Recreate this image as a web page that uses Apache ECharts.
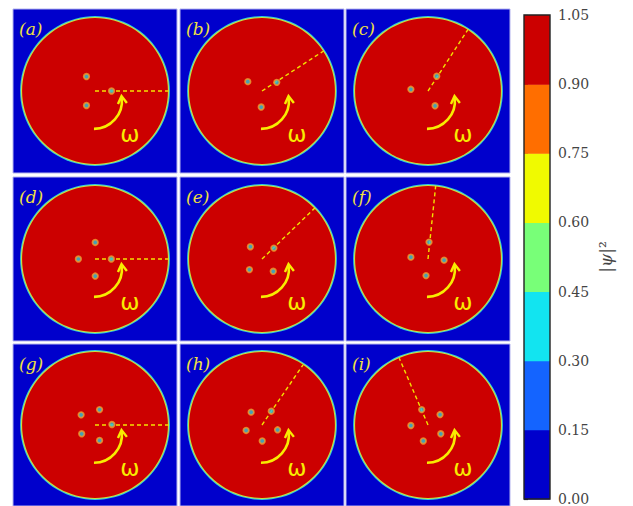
<!DOCTYPE html>
<html><head><meta charset="utf-8">
<script src="https://cdn.jsdelivr.net/npm/echarts@6/dist/echarts.min.js"></script>
<style>html,body{margin:0;padding:0;background:#fff}#c{width:633px;height:506px}</style>
</head><body><div id="c"></div>
<script>
// ---- data (positions in units of the condensate radius) ----
const panelLabels = ['(a)','(b)','(c)','(d)','(e)','(f)','(g)','(h)','(i)'];
const lineAngles = [0, 33, 57, 0, 44, 84, 0, 56, 113]; // degrees of the dashed reference line
const vorticesA = [[0.225,0],[-0.116,0.197],[-0.116,-0.197]];
const vorticesB = [[0.201,0.118],[-0.193,0.127],[-0.011,-0.218]];
const vorticesC = [[0.119,0.201],[-0.233,0.023],[0.096,-0.201]];
const vorticesD = [[0.222,0],[0.003,0.225],[-0.226,0],[0.003,-0.232]];
const vorticesE = [[0.162,0.148],[-0.158,0.167],[-0.171,-0.144],[0.153,-0.167]];
const vorticesF = [[0.014,0.23],[-0.233,0.025],[-0.027,-0.226],[0.219,-0.016]];
const vorticesG = [[0.23,0.007],[0.062,0.212],[-0.189,0.14],[-0.181,-0.121],[0.062,-0.212]];
const vorticesH = [[0.126,0.19],[-0.148,0.177],[-0.216,-0.075],[0.003,-0.22],[0.212,-0.066]];
const vorticesI = [[-0.086,0.212],[0.164,0.144],[-0.233,-0.007],[0.174,-0.121],[-0.064,-0.22]];
const vortexSets = [vorticesA,vorticesB,vorticesC,vorticesD,vorticesE,vorticesF,vorticesG,vorticesH,vorticesI];
const cbTicks = [0, 0.15, 0.30, 0.45, 0.60, 0.75, 0.90, 1.05];
const cbColors = ['#0000cc','#1464ff','#12e4f0','#78ff78','#f0fa00','#ff6e00','#cc0000'];

// ---- layout ----
const colLefts = [13, 180, 346];
const rowTops = [9, 177, 344];
const panelSize = 164;
const half = 1.1156;

const grids = [], xAxes = [], yAxes = [], series = [];

function makeRender(i) {
  return function (params, api) {
    const c = api.coord([0, 0]);
    const r = api.size([1, 0])[0];
    const ang = api.value(2) * Math.PI / 180;
    const end = api.coord([Math.cos(ang), Math.sin(ang)]);
    const ac = api.coord([-0.014, -0.135]);
    const ar = 0.38 * r;
    const endA = -0.12;
    const tip = [ac[0] + ar * Math.cos(endA), ac[1] + ar * Math.sin(endA)];
    const d = [Math.sin(endA), -Math.cos(endA)];
    const n = [-d[1], d[0]];
    const om = api.coord([0.476, -0.59]);
    const corner = api.coord([-half, half]);
    return {
      type: 'group',
      children: [
        {type: 'circle', shape: {cx: c[0], cy: c[1], r: r + 1.4}, style: {fill: '#30c8e0'}},
        {type: 'circle', shape: {cx: c[0], cy: c[1], r: r + 0.5}, style: {fill: '#c8e040'}},
        {type: 'circle', shape: {cx: c[0], cy: c[1], r: r - 0.6}, style: {fill: '#cc0000'}},
        {type: 'line', shape: {x1: c[0], y1: c[1], x2: end[0], y2: end[1]},
          style: {stroke: '#f2e200', lineWidth: 1.4, lineDash: [4, 3]}},
        {type: 'arc', shape: {cx: ac[0], cy: ac[1], r: ar, startAngle: Math.PI / 2, endAngle: endA, clockwise: false},
          style: {stroke: '#f8ec00', lineWidth: 2.6, fill: null}},
        {type: 'polyline', shape: {points: [
            [tip[0] - d[0] * 6 + n[0] * 4.5, tip[1] - d[1] * 6 + n[1] * 4.5],
            [tip[0] + d[0] * 1.5, tip[1] + d[1] * 1.5],
            [tip[0] - d[0] * 6 - n[0] * 4.5, tip[1] - d[1] * 6 - n[1] * 4.5]]},
          style: {stroke: '#f8ec00', lineWidth: 2.4, fill: null}},
        {type: 'text', x: om[0], y: om[1], style: {text: 'ω', fill: '#f8ec00',
          font: '23px "DejaVu Sans"', align: 'center', verticalAlign: 'middle'}},
        {type: 'text', x: corner[0] + 6, y: corner[1] + 11, style: {text: panelLabels[i], fill: '#f0e040',
          font: 'italic 17px "DejaVu Serif"', align: 'left', verticalAlign: 'top'}}
      ]
    };
  };
}

for (let i = 0; i < 9; i++) {
  const row = Math.floor(i / 3), col = i % 3;
  grids.push({left: colLefts[col], top: rowTops[row], width: panelSize, height: panelSize,
    show: true, backgroundColor: '#0000cc', borderColor: '#b4b4ee', borderWidth: 1});
  xAxes.push({type: 'value', gridIndex: i, min: -half, max: half, show: false});
  yAxes.push({type: 'value', gridIndex: i, min: -half, max: half, show: false});
  series.push({type: 'custom', xAxisIndex: i, yAxisIndex: i, silent: true, animation: false,
    data: [[0, 0, lineAngles[i]]], renderItem: makeRender(i), z: 2});
  series.push({type: 'scatter', xAxisIndex: i, yAxisIndex: i, silent: true, animation: false,
    data: vortexSets[i], symbol: 'circle', symbolSize: 5.5, z: 5,
    itemStyle: {color: '#22c8e6', borderColor: '#f29a2c', borderWidth: 1.8}});
}

// colour bar
grids.push({left: 524, top: 15, width: 26, height: 486, show: false});
xAxes.push({type: 'value', gridIndex: 9, min: 0, max: 1, show: false});
yAxes.push({type: 'value', gridIndex: 9, position: 'right', min: cbTicks[0], max: cbTicks[cbTicks.length - 1],
  interval: 0.15, splitLine: {show: false},
  axisLine: {show: false},
  axisTick: {show: true, length: 4, lineStyle: {color: '#222', width: 1.2}},
  axisLabel: {formatter: v => v.toFixed(2), margin: 8, color: '#444', fontFamily: 'DejaVu Serif', fontSize: 14},
  name: '{n||}{p|ψ}{n||²}', nameLocation: 'middle', nameRotate: 90, nameGap: 47,
  nameTextStyle: {color: '#444', rich: {
    n: {fontFamily: 'DejaVu Serif', fontSize: 17, color: '#444'},
    p: {fontFamily: 'DejaVu Serif', fontStyle: 'italic', fontSize: 17, color: '#444'}}}
});
series.push({type: 'custom', xAxisIndex: 9, yAxisIndex: 9, silent: true, animation: false,
  data: cbColors.map((col, k) => [0, cbTicks[k], cbTicks[k + 1], k]),
  encode: {x: 0, y: [1, 2]},
  renderItem: function (params, api) {
    const p0 = api.coord([0, api.value(1)]);
    const p1 = api.coord([1, api.value(2)]);
    return {type: 'rect', shape: {x: p0[0], y: p1[1], width: p1[0] - p0[0], height: p0[1] - p1[1] + 0.5},
      style: {fill: cbColors[api.value(3)]}};
  }});
series.push({type: 'custom', xAxisIndex: 9, yAxisIndex: 9, silent: true, animation: false, z: 5,
  data: [[0, cbTicks[0], cbTicks[cbTicks.length - 1]]],
  encode: {x: 0, y: [1, 2]},
  renderItem: function (params, api) {
    const p0 = api.coord([0, api.value(1)]);
    const p1 = api.coord([1, api.value(2)]);
    return {type: 'rect', shape: {x: p0[0], y: p1[1], width: p1[0] - p0[0], height: p0[1] - p1[1]},
      style: {fill: null, stroke: '#222', lineWidth: 1.4}};
  }});

const chart = echarts.init(document.getElementById('c'), null, {renderer: 'svg'});
chart.setOption({backgroundColor: '#fff', animation: false, grid: grids, xAxis: xAxes, yAxis: yAxes, series: series});
</script></body></html>
